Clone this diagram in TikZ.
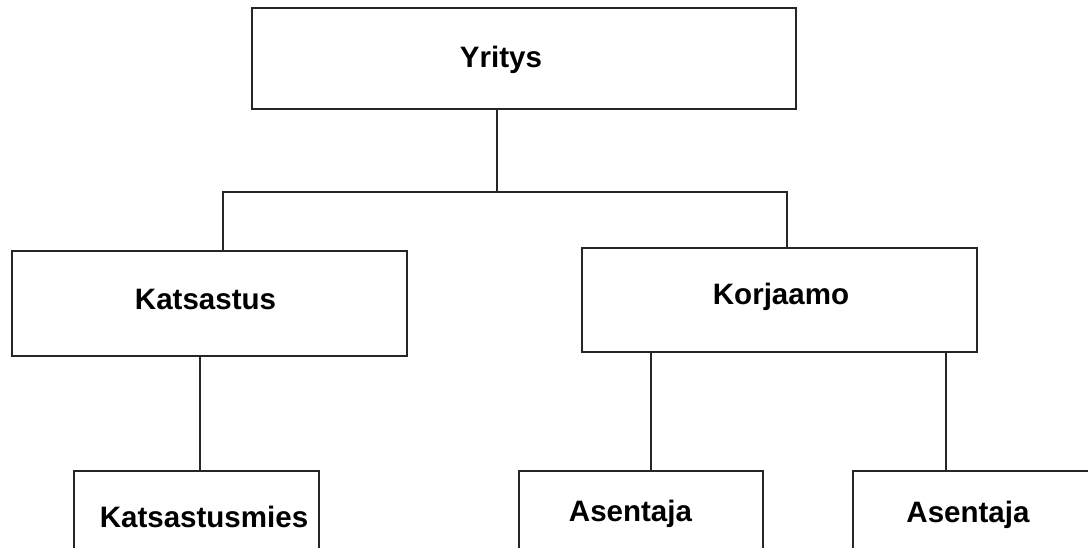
\documentclass[tikz,border=0pt]{standalone}
\usepackage{fontspec}
\setmainfont{Liberation Sans}
\begin{document}
\begin{tikzpicture}[
    orgbox/.style={draw=black!85, line width=1.2pt, rectangle, inner sep=0pt},
    orgtext/.style={anchor=base, inner sep=0pt, font=\fontsize{21}{25}\selectfont\bfseries},
    orgline/.style={draw=black!85, line width=1.2pt}]
    \useasboundingbox (0.000000,0.000000) rectangle (27.200000,-13.675000);
    \clip (0.000000,0.000000) rectangle (27.200000,-13.675000);

    % Boxes
    \node [orgbox, minimum width=13.600000cm, minimum height=2.525000cm] (yritys) at (13.100000,-1.462500) {};
    \node [orgbox, minimum width=9.875000cm, minimum height=2.625000cm] (katsastus) at (5.237500,-7.587500) {};
    \node [orgbox, minimum width=9.875000cm, minimum height=2.600000cm] (korjaamo) at (19.487500,-7.500000) {};
    \node [orgbox, minimum width=6.125000cm, minimum height=2.500000cm] (katsastusmies) at (4.912500,-13.025000) {};
    \node [orgbox, minimum width=6.100000cm, minimum height=2.500000cm] (asentajaA) at (16.025000,-13.025000) {};
    \node [orgbox, minimum width=6.100000cm, minimum height=2.500000cm] (asentajaB) at (24.375000,-13.025000) {};

    % Box texts
    \node [orgtext] (yritysT) at (12.525000,-1.675000) {Yritys};
    \node [orgtext] (katsastusT) at (5.137500,-7.725000) {Katsastus};
    \node [orgtext] (korjaamoT) at (19.525000,-7.600000) {Korjaamo};
    \node [orgtext] (katsastusmiesT) at (5.100000,-13.175000) {Katsastusmies};
    \node [orgtext] (asentajaAT) at (15.762500,-13.025000) {Asentaja};
    \node [orgtext] (asentajaBT) at (24.200000,-13.050000) {Asentaja};

    % Branch points
    \coordinate (busM) at (12.425000,-4.800000);
    \coordinate (busL) at (5.575000,-4.800000);
    \coordinate (busR) at (19.675000,-4.800000);
    \coordinate (dropK) at (5.000000,0.000000);
    \coordinate (dropA) at (16.275000,0.000000);
    \coordinate (dropB) at (23.650000,0.000000);

    % Yritys down to the bus
    \draw [orgline] (yritys.south -| busM) -- (busM);
    % Bus to Katsastus and Korjaamo
    \draw [orgline] (katsastus.north -| busL) -- (busL) -- (busR) -- (korjaamo.north -| busR);
    % Katsastus to Katsastusmies
    \draw [orgline] (katsastus.south -| dropK) -- (katsastusmies.north -| dropK);
    % Korjaamo to both Asentaja
    \draw [orgline] (korjaamo.south -| dropA) -- (asentajaA.north -| dropA);
    \draw [orgline] (korjaamo.south -| dropB) -- (asentajaB.north -| dropB);
\end{tikzpicture}
\end{document}
